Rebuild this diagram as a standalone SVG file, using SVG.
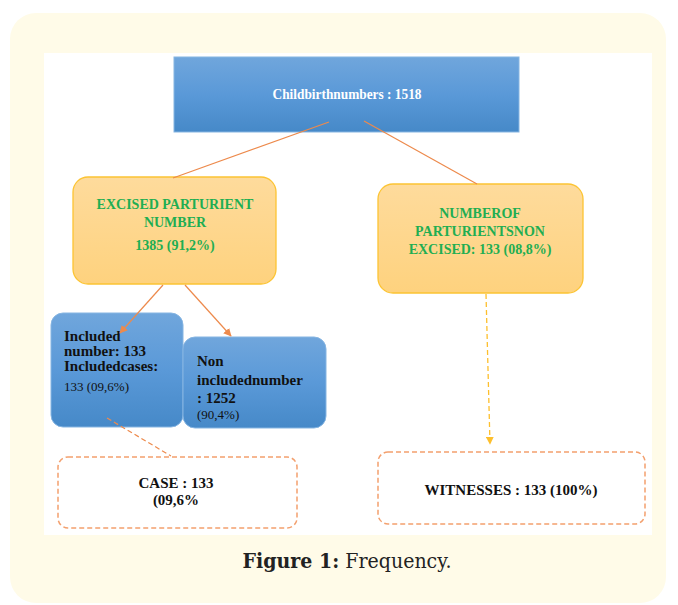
<svg xmlns="http://www.w3.org/2000/svg" width="678" height="605" viewBox="0 0 678 605">
<defs>
<linearGradient id="gBlue" x1="0" y1="0" x2="0" y2="1">
<stop offset="0" stop-color="#70a6dc"/>
<stop offset="0.5" stop-color="#5a99d8"/>
<stop offset="1" stop-color="#4689c8"/>
</linearGradient>
<linearGradient id="gOrange" x1="0" y1="0" x2="0" y2="1">
<stop offset="0" stop-color="#fedb9c"/>
<stop offset="1" stop-color="#fed27e"/>
</linearGradient>
<marker id="aOrange" viewBox="0 0 10 10" refX="9" refY="5" markerWidth="8" markerHeight="8" orient="auto" markerUnits="userSpaceOnUse">
<path d="M0,0 L10,5 L0,10 z" fill="#ed8a4c"/>
</marker>
<marker id="aYellow" viewBox="0 0 10 10" refX="9" refY="5" markerWidth="8" markerHeight="8" orient="auto" markerUnits="userSpaceOnUse">
<path d="M0,0 L10,5 L0,10 z" fill="#fdbf2d"/>
</marker>
</defs>
<style>
.blue{fill:url(#gBlue);stroke:#86b5e2;stroke-width:1}
.orange{fill:url(#gOrange);stroke:#fcc433;stroke-width:1.3}
.dash{fill:#ffffff;stroke:#f3a06e;stroke-width:1.5;stroke-dasharray:5,3}
.t{font-family:"Liberation Serif","Times New Roman",serif;font-weight:bold}
.g{fill:#1fae52;font-size:14px;text-anchor:middle}
.k{fill:#111111;font-size:15px}
.s{fill:#111111;font-size:13px;font-weight:normal}
.line{stroke:#ed8a4c;stroke-width:1.2;fill:none}
</style>
<rect x="10" y="13" width="656" height="590" rx="26" fill="#fffbe8"/>
<rect x="44" y="53" width="608" height="482" fill="#ffffff"/>
<g id="top">
<rect class="blue" x="174" y="57" width="345" height="75"/>
<text class="t" x="347" y="99" fill="#ffffff" font-size="15" text-anchor="middle" textLength="149" lengthAdjust="spacingAndGlyphs">Childbirthnumbers : 1518</text>
</g>
<g id="excised">
<rect class="orange" x="73" y="177" width="203" height="107" rx="15"/>
<text class="t g" x="175" y="209">EXCISED PARTURIENT</text>
<text class="t g" x="175" y="227">NUMBER</text>
<text class="t g" x="175" y="250">1385 (91,2%)</text>
</g>
<g id="nonexcised">
<rect class="orange" x="378" y="184" width="205" height="109" rx="15"/>
<text class="t g" x="480" y="218">NUMBEROF</text>
<text class="t g" x="480" y="236">PARTURIENTSNON</text>
<text class="t g" x="480" y="254">EXCISED: 133 (08,8%)</text>
</g>
<g id="included">
<rect class="blue" x="51" y="313" width="132" height="114" rx="12"/>
<text class="t k" x="64" y="341">Included</text>
<text class="t k" x="64" y="356">number: 133</text>
<text class="t k" x="64" y="371">Includedcases:</text>
<text class="t s" x="64" y="391">133 (09,6%)</text>
</g>
<g id="nonincluded">
<rect class="blue" x="183" y="337" width="143" height="91" rx="12"/>
<text class="t k" x="197" y="366">Non</text>
<text class="t k" x="197" y="385">includednumber</text>
<text class="t k" x="197" y="403">: 1252</text>
<text class="t s" x="197" y="419">(90,4%)</text>
</g>
<g id="case">
<rect class="dash" x="58" y="457" width="239" height="71" rx="10"/>
<text class="t k" x="176" y="488" text-anchor="middle">CASE : 133</text>
<text class="t k" x="176" y="505" text-anchor="middle">(09,6%</text>
</g>
<g id="witnesses">
<rect class="dash" x="378" y="452" width="267" height="72" rx="10"/>
<text class="t k" x="511" y="495" text-anchor="middle">WITNESSES  : 133 (100%)</text>
</g>
<g id="connectors">
<line class="line" x1="329" y1="122" x2="173" y2="178"/>
<line class="line" x1="364" y1="121" x2="477" y2="184"/>
<line class="line" x1="163" y1="285" x2="120" y2="333" marker-end="url(#aOrange)"/>
<line class="line" x1="185" y1="285" x2="231" y2="336" marker-end="url(#aOrange)"/>
<line class="line" x1="107" y1="418" x2="171" y2="456" stroke-dasharray="5,3"/>
<line x1="486" y1="294" x2="490" y2="444" stroke="#fdbf2d" stroke-width="1.3" stroke-dasharray="5,3" marker-end="url(#aYellow)"/>
</g>
<text x="347" y="568" font-family="'DejaVu Serif',serif" font-size="20" fill="#222222" text-anchor="middle" textLength="209" lengthAdjust="spacingAndGlyphs"><tspan font-weight="bold">Figure 1:</tspan> Frequency.</text>
</svg>
